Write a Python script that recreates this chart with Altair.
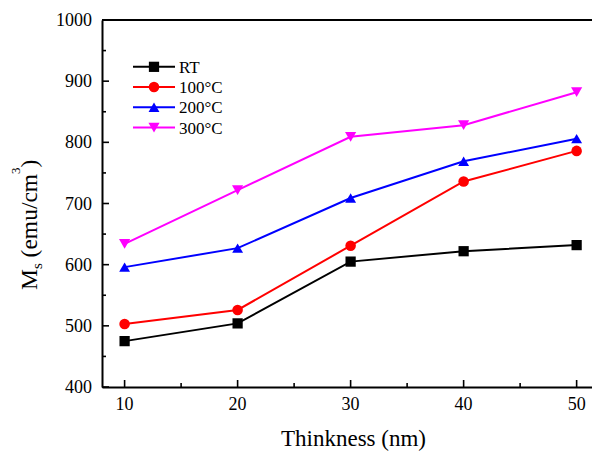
import altair as alt
import pandas as pd

# Film thickness (nm) and saturation magnetisation Ms (emu/cm^3) per annealing temperature
thickness = [10, 20, 30, 40, 50]
series_names = ["RT", "100°C", "200°C", "300°C"]
ms_rt = [475, 504, 605, 622, 632]
ms_100 = [503, 526, 631, 736, 786]
ms_200 = [596, 627, 709, 769, 806]
ms_300 = [634, 722, 809, 828, 882]

series_colors = ["#000000", "#ff0000", "#0000ff", "#ff00ff"]
series_shapes = ["square", "circle", "triangle-up", "triangle-down"]
marker_sizes = [105, 125, 185, 185]

x_major = [10, 20, 30, 40, 50]
x_minor = [15, 25, 35, 45]
y_major = [400, 500, 600, 700, 800, 900, 1000]
y_minor = [450, 550, 650, 750, 850, 950]
x_title = "Thinkness (nm)"

FONT = "Liberation Serif"
W, H = 490, 367
X_MIN, X_MAX = 8, 51.36
Y_MIN, Y_MAX = 400, 1000
ux = (X_MAX - X_MIN) / W      # data units per pixel, x
uy = (Y_MAX - Y_MIN) / H      # data units per pixel, y

rows = []
for name, vals in zip(series_names, [ms_rt, ms_100, ms_200, ms_300]):
    for t, v in zip(thickness, vals):
        rows.append({"series": name, "thickness": t, "ms": v})
df = pd.DataFrame(rows)

x_scale = alt.Scale(domain=[X_MIN, X_MAX], nice=False, zero=False)
y_scale = alt.Scale(domain=[Y_MIN, Y_MAX], nice=False, zero=False)
color_scale = alt.Scale(domain=series_names, range=series_colors)
shape_scale = alt.Scale(domain=series_names, range=series_shapes)
size_scale = alt.Scale(domain=series_names, range=marker_sizes)

# Axes contribute only their baselines; ticks and labels are drawn as marks below
x_axis = alt.Axis(values=x_major, ticks=False, labels=False, grid=False, domainWidth=2,
                  domainColor="black", title=None)
y_axis = alt.Axis(values=y_major, ticks=False, labels=False, grid=False, domainWidth=2,
                  domainColor="black", title=None)

lines = alt.Chart(df).mark_line(strokeWidth=2).encode(
    x=alt.X("thickness:Q", scale=x_scale, axis=x_axis),
    y=alt.Y("ms:Q", scale=y_scale, axis=y_axis),
    color=alt.Color("series:N", scale=color_scale, legend=None),
)
points = alt.Chart(df).mark_point(filled=True, opacity=1).encode(
    x=alt.X("thickness:Q"),
    y=alt.Y("ms:Q"),
    color=alt.Color("series:N", scale=color_scale, legend=None),
    shape=alt.Shape("series:N", scale=shape_scale, legend=None),
    size=alt.Size("series:N", scale=size_scale, legend=None),
)

# Top frame line
frame_df = pd.DataFrame({"x0": [X_MIN], "x1": [X_MAX], "y": [Y_MAX]})
frame_top = alt.Chart(frame_df).mark_rule(strokeWidth=2, color="black").encode(
    x="x0:Q", x2="x1:Q", y="y:Q"
)

# Inward tick marks
def x_ticks(vals, length_px):
    d = pd.DataFrame({"t": vals, "y0": Y_MIN, "y1": Y_MIN + length_px * uy})
    return alt.Chart(d).mark_rule(strokeWidth=1.6, color="black").encode(
        x="t:Q", y="y0:Q", y2="y1:Q")

def y_ticks(vals, length_px):
    d = pd.DataFrame({"t": vals, "x0": X_MIN, "x1": X_MIN + length_px * ux})
    return alt.Chart(d).mark_rule(strokeWidth=1.6, color="black").encode(
        y="t:Q", x="x0:Q", x2="x1:Q")

ticks = [x_ticks(x_major, 7), x_ticks(x_minor, 4), y_ticks(y_major, 7), y_ticks(y_minor, 4)]

# Tick labels
x_lab = alt.Chart(pd.DataFrame({"t": x_major})).mark_text(
    font=FONT, fontSize=18, align="center", baseline="alphabetic", color="black"
).encode(x="t:Q", y=alt.value(H + 23), text=alt.Text("t:Q", format="d"))
y_lab = alt.Chart(pd.DataFrame({"t": y_major})).mark_text(
    font=FONT, fontSize=18, align="right", baseline="alphabetic", color="black", dy=6
).encode(y="t:Q", x=alt.value(-10), text=alt.Text("t:Q", format="d"))

x_title_mark = alt.Chart(pd.DataFrame({"k": [0]})).mark_text(
    text=x_title, font=FONT, fontSize=23, align="center", baseline="alphabetic", color="black"
).encode(x=alt.value(251.5), y=alt.value(426))

main = alt.layer(lines, points, frame_top, *ticks, x_lab, y_lab, x_title_mark)

# Legend drawn inside the plot, upper left
leg_df = pd.DataFrame({"series": series_names})
leg_y = alt.Y("series:N", scale=alt.Scale(domain=series_names, range=[36.7, 117.7], padding=0),
              axis=None)
leg_color = alt.Color("series:N", scale=color_scale, legend=None)
leg_line = alt.Chart(leg_df).mark_rule(strokeWidth=2).encode(
    y=leg_y, x=alt.value(31), x2=alt.value(73), color=leg_color)
leg_pt = alt.Chart(leg_df).mark_point(filled=True, opacity=1).encode(
    y=leg_y, x=alt.value(52), color=leg_color,
    shape=alt.Shape("series:N", scale=shape_scale, legend=None),
    size=alt.Size("series:N", scale=size_scale, legend=None))
leg_txt = alt.Chart(leg_df).mark_text(font=FONT, fontSize=17, align="left", baseline="middle",
                                      color="black", dy=1).encode(
    y=leg_y, x=alt.value(77), text="series:N")
legend = alt.layer(leg_line, leg_pt, leg_txt)

# Rotated y-axis title: M_s (emu/cm^3)
one = pd.DataFrame({"k": [0]})
def title_piece(text, x, y, size):
    return alt.Chart(one).mark_text(text=text, font=FONT, fontSize=size, angle=270,
                                    align="left", baseline="alphabetic", color="black").encode(
        x=alt.value(x), y=alt.value(y))

title_parts = alt.layer(
    title_piece("M", -65, 270, 23.5),
    title_piece("s", -60, 249.1, 15),
    title_piece("(emu/cm", -65, 237.4, 23.5),
    title_piece("3", -82, 153.9, 13),
    title_piece(")", -65, 147.4, 23.5),
)

chart = alt.layer(main, legend, title_parts).resolve_scale(y="independent").properties(
    width=W, height=H,
    padding={"left": 102, "top": 20, "right": 0, "bottom": 65},
    autosize=alt.AutoSizeParams(type="none"),
).configure(background="white", font=FONT).configure_view(stroke=None).configure_text(font=FONT)

chart.save("out.html", embed_options={"renderer": "svg", "actions": False})
